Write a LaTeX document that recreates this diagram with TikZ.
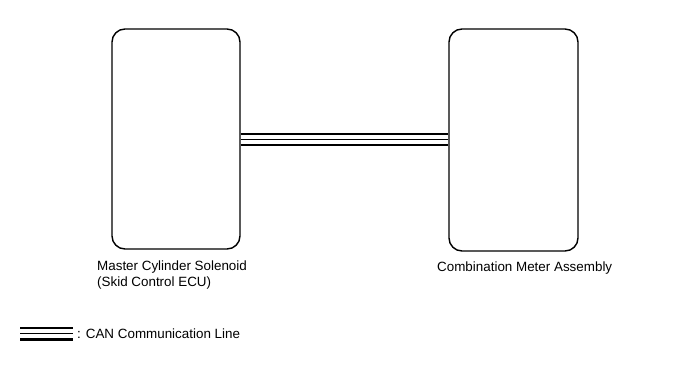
\documentclass[tikz,border=0pt]{standalone}
\usepackage{fontspec}
\setmainfont{Liberation Sans}
\begin{document}
\begin{tikzpicture}[x=1pt,y=-1pt,
  unit/.style={draw=black, line width=1.4pt, rounded corners=13pt, inner sep=0pt},
  label/.style={inner sep=0pt, align=left, font=\fontsize{13.4}{16}\selectfont},
  thickwire/.style={line width=2.6pt},
  thinwire/.style={line width=0.9pt}]
  \useasboundingbox (0,0) rectangle (691,369);

  % ECUs
  \node[unit, minimum width=128pt, minimum height=220pt] (ecu) at (176,139) {};
  \node[unit, minimum width=129pt, minimum height=222pt] (meter) at (513.5,140) {};

  % CAN bus between the units
  \coordinate (y1) at (0,134);
  \coordinate (y2) at (0,139.5);
  \coordinate (y3) at (0,145);
  \draw[thickwire] (ecu.east |- y1) -- (meter.west |- y1);
  \draw[thinwire]  (ecu.east |- y2) -- (meter.west |- y2);
  \draw[thickwire] (ecu.east |- y3) -- (meter.west |- y3);

  % unit names (base anchor sits on the last line)
  \node[label, anchor=base west] (ecuname) at (97,286) {Master Cylinder Solenoid\\(Skid Control ECU)};
  \node[label, anchor=base west] (metername) at (437,271.5) {Combination Meter Assembly};

  % legend
  \coordinate (l1a) at (20,328);  \coordinate (l1b) at (73,328);
  \coordinate (l2a) at (20,333.7);\coordinate (l2b) at (73,333.7);
  \coordinate (l3a) at (20,339.3);\coordinate (l3b) at (73,339.3);
  \draw[thickwire] (l1a) -- (l1b);
  \draw[thinwire]  (l2a) -- (l2b);
  \draw[thickwire] (l3a) -- (l3b);
  \node[label, anchor=base west] (legend) at (77,338) {: CAN Communication Line};
\end{tikzpicture}
\end{document}
